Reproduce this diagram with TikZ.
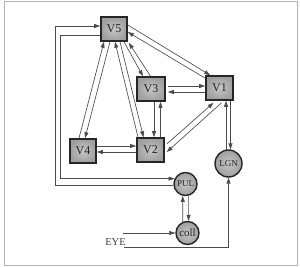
\documentclass[tikz,border=0pt]{standalone}
\usepackage{fontspec}
\setmainfont{Liberation Serif}
\usetikzlibrary{arrows.meta,calc}
\begin{document}
\begin{tikzpicture}[x=1pt,y=-1pt,
  conn/.style={draw=black!70, line width=0.65pt, -{Triangle[length=6pt,width=4pt]}},
  areabox/.style={rectangle, draw=black!85, line width=1.6pt, inner color=gray!45, outer color=gray!75,
    minimum width=26pt, minimum height=24pt, inner sep=0pt, font=\fontsize{12}{12}\selectfont, text=black!85},
  nucbox/.style={circle, draw=black!85, line width=1.4pt, inner color=gray!45, outer color=gray!75,
    inner sep=0pt, font=\fontsize{9}{9}\selectfont, text=black!85}]
\useasboundingbox (0,0) rectangle (300,267);
\fill[white] (0,0) rectangle (300,267);
\draw[gray!60, line width=0.9pt] (4,1.5) rectangle (297,265);

\node[areabox] (V5) at (114,29) {V5};
\node[areabox, minimum width=28pt] (V3) at (151,89) {V3};
\node[areabox, minimum width=27pt] (V1) at (219.5,88) {V1};
\node[areabox] (V4) at (83,151) {V4};
\node[areabox, minimum width=27pt] (V2) at (150.5,150) {V2};
\node[nucbox, minimum size=27pt] (LGN) at (228.5,163.5) {LGN};
\node[nucbox, minimum size=23pt] (PUL) at (185.5,184) {PUL};
\node[nucbox, minimum size=23pt, font=\fontsize{11}{11}\selectfont] (coll) at (187.5,233) {coll};
\node[inner sep=0pt, font=\fontsize{10.5}{10.5}\selectfont, text=black!75] (EYE) at (115.5,242) {EYE};

\coordinate (colI) at (60,0);
\coordinate (colO) at (55,0);

% V5 <-> V4
\draw[conn] ($(V4.north)+(-4,0)$) -- ($(V5.south)+(-10,0)$);
\draw[conn] ($(V5.south)+(-4,0)$) -- ($(V4.north)+(2,0)$);
% V5 <-> V2
\draw[conn] ($(V2.north)+(-12.5,0)$) -- ($(V5.south)+(1,0)$);
\draw[conn] ($(V5.south)+(6,0)$) -- ($(V2.north)+(-7,0)$);
% V5 <-> V3
\draw[conn] ($(V5.south)+(10,0)$) -- ($(V3.north)+(-8,0)$);
\draw[conn] ($(V3.north)+(-0.5,0)$) -- ($(V5.south east)+(1,1)$);
% V5 <-> V1
\draw[conn] ($(V5.east)+(0,-4)$) -- ($(V1.north west)+(5,0)$);
\draw[conn] ($(V1.north west)+(0,3)$) -- ($(V5.east)+(0,3)$);
% V3 <-> V1
\draw[conn] ($(V3.east)+(2,-3)$) -- ($(V1.west)+(0,-2)$);
\draw[conn] ($(V1.west)+(0,4)$) -- ($(V3.east)+(2,3)$);
% V3 <-> V2
\draw[conn] ($(V3.south)+(3,0)$) -- ($(V2.north)+(3.5,0)$);
\draw[conn] ($(V2.north)+(10,0)$) -- ($(V3.south)+(9.5,0)$);
% V4 <-> V2
\draw[conn] ($(V4.east)+(0,-5)$) -- ($(V2.west)+(0,-4)$);
\draw[conn] ($(V2.west)+(0,2)$) -- ($(V4.east)+(0,1)$);
% V2 <-> V1
\draw[conn] ($(V2.east)+(2,-6)$) -- ($(V1.south)+(-6,2)$);
\draw[conn] ($(V1.south)+(2,2)$) -- ($(V2.east)+(2,2)$);
% LGN <-> V1
\draw[conn] (LGN.100) -- (LGN.100 |- V1.south);
\draw[conn] (LGN.82 |- V1.south) -- (LGN.82);
% PUL <-> coll
\draw[conn] (coll.113) -- (PUL.257);
\draw[conn] (PUL.285) -- (coll.85);
% EYE
\draw[conn] ($(EYE.north east |- coll.west)+(-3,0)$) -- (coll.west);
\draw[conn] ($(EYE.south east)+(-2,2)$) -| (LGN.south);
% feedback V5 <-> PUL
\draw[conn] ($(V5.west)+(0,6)$) -| (colI |- PUL.154) -- (PUL.154);
\draw[conn] (PUL.185) -- (colO |- PUL.185) |- ($(V5.west)+(0,-3)$);
\end{tikzpicture}
\end{document}
